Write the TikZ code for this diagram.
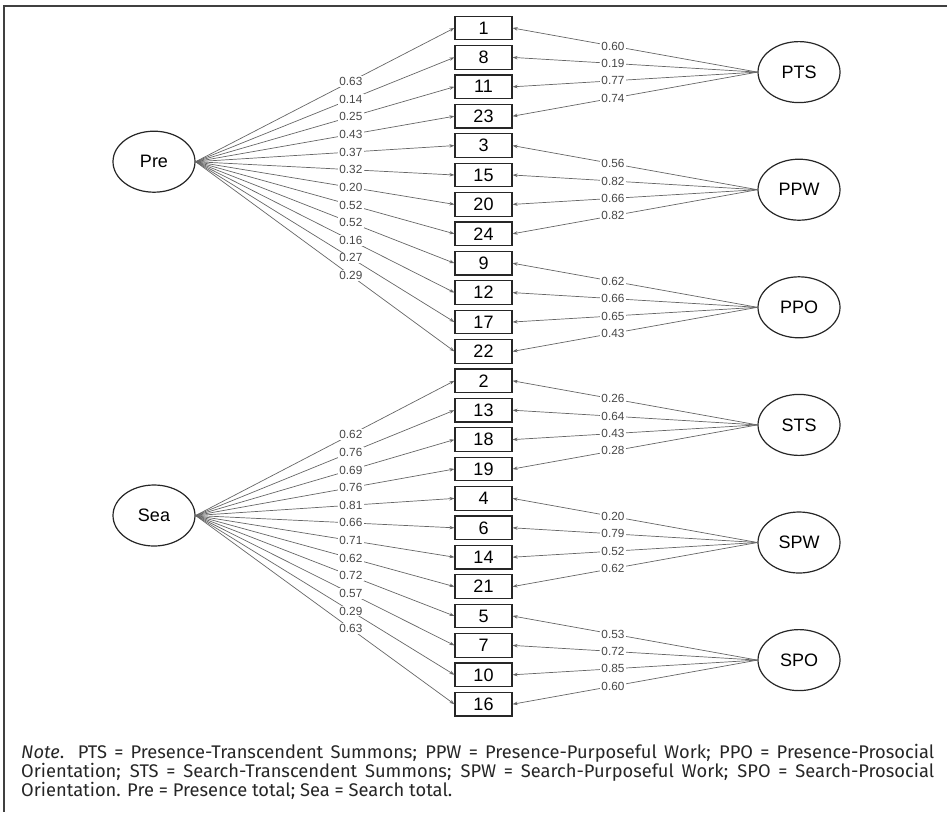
\documentclass[tikz,border=0pt]{standalone}
\usepackage{fontspec}
\newfontfamily\diagfont{Liberation Sans}
\newfontfamily\notefont{Fira Sans}
\usetikzlibrary{shapes.geometric,arrows.meta}
\begin{document}
\begin{tikzpicture}[x=1pt,y=-1pt,
  item/.style={draw=black!85, line width=1.2pt, minimum width=57pt, minimum height=23.5pt, inner sep=0pt, font=\diagfont\fontsize{18}{18}\selectfont},
  latent/.style={ellipse, draw=black!85, line width=1.2pt, minimum width=82pt, minimum height=61pt, inner sep=0pt, font=\diagfont\fontsize{18}{18}\selectfont},
  loading/.style={draw=black!60, line width=0.7pt, -{Stealth[length=5pt,width=3.5pt]}},
  coef/.style={fill=white, inner sep=1.2pt, text=black!72, font=\diagfont\fontsize{11.8}{11.8}\selectfont}
]
\useasboundingbox (0,0) rectangle (947,812);
\draw[line width=1.5pt, black!75] (947,6) -- (4,6) -- (4,812);

\foreach \n [count=\i from 0] in {1,8,11,23,3,15,20,24,9,12,17,22,2,13,18,19,4,6,14,21,5,7,10,16}
  \node[item] (b\n) at (483.5, {28+29.4*\i}) {\n};

\node[latent] (Pre) at (154,161.7) {Pre};
\node[latent] (Sea) at (154,515.5) {Sea};
\node[latent] (PTS) at (799,72.1) {PTS};
\node[latent] (PPW) at (799,189.7) {PPW};
\node[latent] (PPO) at (799,307.3) {PPO};
\node[latent] (STS) at (799,424.9) {STS};
\node[latent] (SPW) at (799,542.5) {SPW};
\node[latent] (SPO) at (799,660.1) {SPO};

\def\leftlist{Pre/1/0.63, Pre/8/0.14, Pre/11/0.25, Pre/23/0.43, Pre/3/0.37, Pre/15/0.32, Pre/20/0.20, Pre/24/0.52, Pre/9/0.52, Pre/12/0.16, Pre/17/0.27, Pre/22/0.29,
  Sea/2/0.62, Sea/13/0.76, Sea/18/0.69, Sea/19/0.76, Sea/4/0.81, Sea/6/0.66, Sea/14/0.71, Sea/21/0.62, Sea/5/0.72, Sea/7/0.57, Sea/10/0.29, Sea/16/0.63}
\def\rightlist{PTS/1/0.60, PTS/8/0.19, PTS/11/0.77, PTS/23/0.74,
  PPW/3/0.56, PPW/15/0.82, PPW/20/0.66, PPW/24/0.82,
  PPO/9/0.62, PPO/12/0.66, PPO/17/0.65, PPO/22/0.43,
  STS/2/0.26, STS/13/0.64, STS/18/0.43, STS/19/0.28,
  SPW/4/0.20, SPW/6/0.79, SPW/14/0.52, SPW/21/0.62,
  SPO/5/0.53, SPO/7/0.72, SPO/10/0.85, SPO/16/0.60}

\foreach \s/\t/\c in \leftlist
  \draw[loading] (\s.east) -- (b\t.west);
\foreach \s/\t/\c in \rightlist
  \draw[loading] (\s.west) -- (b\t.east);
\foreach \s/\t/\c in \leftlist
  \path (\s.east) -- (b\t.west) node[coef, pos=0.6] {\c};
\foreach \s/\t/\c in \rightlist
  \path (\s.west) -- (b\t.east) node[coef, pos=0.59] {\c};

\node[anchor=north west, inner sep=0pt, text width=913pt, align=justify,
  font=\notefont\fontsize{18.3}{16.4}\selectfont, text=black!85] (note) at (21,744)
  {\textit{Note}. PTS = Presence-Transcendent Summons; PPW = Presence-Purposeful Work; PPO = Presence-Prosocial\linebreak
   Orientation; STS = Search-Transcendent Summons; SPW = Search-Purposeful Work; SPO = Search-Prosocial\linebreak
   Orientation. Pre = Presence total; Sea = Search total.};
\end{tikzpicture}
\end{document}
